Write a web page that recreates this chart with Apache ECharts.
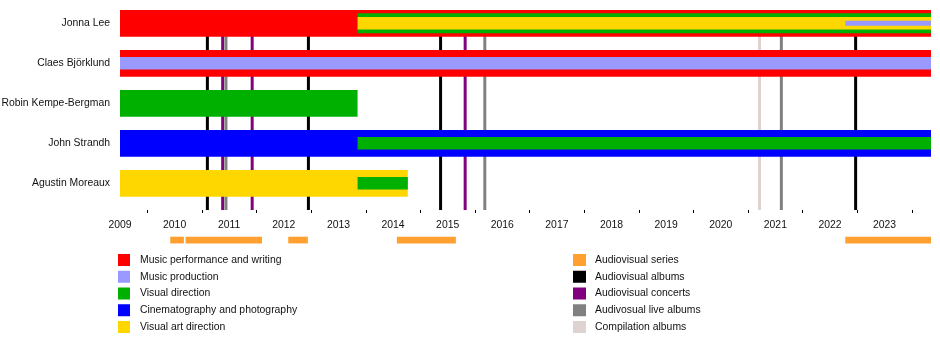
<!DOCTYPE html>
<html>
<head>
<meta charset="utf-8">
<script src="https://cdn.jsdelivr.net/npm/echarts@6/dist/echarts.min.js"></script>
<style>
  html, body { margin: 0; background: #fff; }
  #chart { width: 940px; height: 350px; }
</style>
</head>
<body>
<div id="chart"></div>
<script>
// band members (rows, top to bottom)
const members = ['Jonna Lee', 'Claes Björklund', 'Robin Kempe-Bergman', 'John Strandh', 'Agustin Moreaux'];
const END = 2023.85;
const years = [2009, 2010, 2011, 2012, 2013, 2014, 2015, 2016, 2017, 2018, 2019, 2020, 2021, 2022, 2023];

const roles = ['Music performance and writing', 'Music production', 'Visual direction',
  'Cinematography and photography', 'Visual art direction'];

// spans: [member, start, end, role] - one list per stacking layer
const baseSpans = [[0, 2009, END, 0], [1, 2009, END, 0], [2, 2009, 2013.35, 2], [3, 2009, END, 3], [4, 2009, 2014.27, 4]];
const wideSpans = [[0, 2013.35, END, 2]];
const midSpans = [[0, 2013.35, END, 4], [1, 2009, END, 1], [3, 2013.35, END, 2], [4, 2013.35, 2014.27, 2]];
const thinSpans = [[0, 2022.28, END, 1]];

// releases
const avSeries = [[2009.92, 2010.17], [2010.2, 2011.6], [2012.08, 2012.44], [2014.07, 2015.15], [2022.28, END]];
const avAlbums = [2010.6, 2012.45, 2014.87, 2022.47];
const avConcerts = [2010.88, 2011.42, 2015.32];
const avLiveAlbums = [2010.94, 2015.68, 2021.11];
const compilations = [2020.71];

const releaseNames = ['Audiovisual series', 'Audiovisual albums', 'Audiovisual concerts', 'Audivosual live albums', 'Compilation albums'];

const roleColors = ['#ff0000', '#9999ff', '#00b000', '#0000ff', '#ffd700'];
const releaseColors = ['#ffa030', '#000000', '#800080', '#808080', '#ded3d0'];
const layerHeights = [26.7, 20, 12.5, 5];
const FONT = 'Liberation Sans, Arial, sans-serif';
const FS = 10.4;

const layers = [baseSpans, wideSpans, midSpans, thinSpans];

const roleSeries = roles.map((name, r) => {
  const data = [];
  layers.forEach((spans, level) => {
    spans.filter(s => s[3] === r).forEach(s => data.push([s[1], s[0], s[2], level]));
  });
  return {
    type: 'custom',
    name: name,
    clip: false,
    itemStyle: { color: roleColors[r] },
    encode: { x: [0, 2], y: 1 },
    data: data,
    renderItem: function (params, api) {
      const a = api.coord([api.value(0), api.value(1)]);
      const b = api.coord([api.value(2), api.value(1)]);
      const level = api.value(3);
      const h = layerHeights[level];
      return {
        type: 'rect',
        z2: 20 + level,
        shape: { x: a[0], y: a[1] - h / 2, width: b[0] - a[0], height: h },
        style: { fill: roleColors[r] }
      };
    }
  };
});

function lineSeries(name, values, color) {
  return {
    type: 'custom',
    name: name,
    clip: false,
    itemStyle: { color: color },
    encode: { x: 0, y: 1 },
    data: values.map(v => [v, 0]),
    renderItem: function (params, api) {
      const top = api.coord([api.value(0), 0]);
      const bottom = api.coord([api.value(0), members.length - 1]);
      return {
        type: 'line',
        z2: 5,
        shape: { x1: top[0], y1: top[1] - 13, x2: top[0], y2: bottom[1] + 26.7 },
        style: { stroke: color, lineWidth: 3 }
      };
    }
  };
}

const seriesBars = {
  type: 'custom',
  name: releaseNames[0],
  clip: false,
  itemStyle: { color: releaseColors[0] },
  encode: { x: [0, 1] },
  data: avSeries.map(s => [s[0], s[1], members.length - 1]),
  renderItem: function (params, api) {
    const a = api.coord([api.value(0), api.value(2)]);
    const b = api.coord([api.value(1), api.value(2)]);
    const y = a[1] + 26.7 + 26.7;
    return {
      type: 'rect',
      shape: { x: a[0], y: y, width: b[0] - a[0], height: 6.7 },
      style: { fill: releaseColors[0] }
    };
  }
};

const chart = echarts.init(document.getElementById('chart'));
chart.setOption({
  animation: false,
  textStyle: { fontFamily: FONT },
  grid: { left: 120, right: 9, top: 3.3, height: 200, outerBoundsMode: 'none', containLabel: false },
  xAxis: {
    type: 'value',
    min: 2009,
    max: END,
    interval: 1,
    offset: 6.7,
    splitLine: { show: false },
    axisLine: { lineStyle: { color: '#000', width: 1 } },
    axisTick: { length: 5, lineStyle: { color: '#000' } },
    minorTick: { show: true, splitNumber: 2, length: 3, lineStyle: { color: '#000' } },
    axisLabel: { customValues: years, color: '#111', fontSize: FS, margin: 10, fontFamily: FONT,
      formatter: v => String(v) }
  },
  yAxis: {
    type: 'category',
    inverse: true,
    data: members,
    axisLine: { show: false },
    axisTick: { show: false },
    splitLine: { show: false },
    axisLabel: { color: '#111', fontSize: FS, margin: 10, fontFamily: FONT }
  },
  legend: [
    {
      data: roles, orient: 'vertical', left: 118, top: 254, padding: 0,
      icon: 'rect', itemWidth: 12, itemHeight: 12, itemGap: 4.75, selectedMode: false,
      textStyle: { fontSize: FS, color: '#111', fontFamily: FONT, padding: [0, 0, 0, 5] }
    },
    {
      data: releaseNames, orient: 'vertical', left: 573, top: 254, padding: 0,
      icon: 'rect', itemWidth: 13, itemHeight: 12, itemGap: 4.75, selectedMode: false,
      textStyle: { fontSize: FS, color: '#111', fontFamily: FONT, padding: [0, 0, 0, 4] }
    }
  ],
  series: [
    lineSeries(releaseNames[1], avAlbums, releaseColors[1]),
    lineSeries(releaseNames[2], avConcerts, releaseColors[2]),
    lineSeries(releaseNames[3], avLiveAlbums, releaseColors[3]),
    lineSeries(releaseNames[4], compilations, releaseColors[4]),
    seriesBars
  ].concat(roleSeries)
});
</script>
</body>
</html>
